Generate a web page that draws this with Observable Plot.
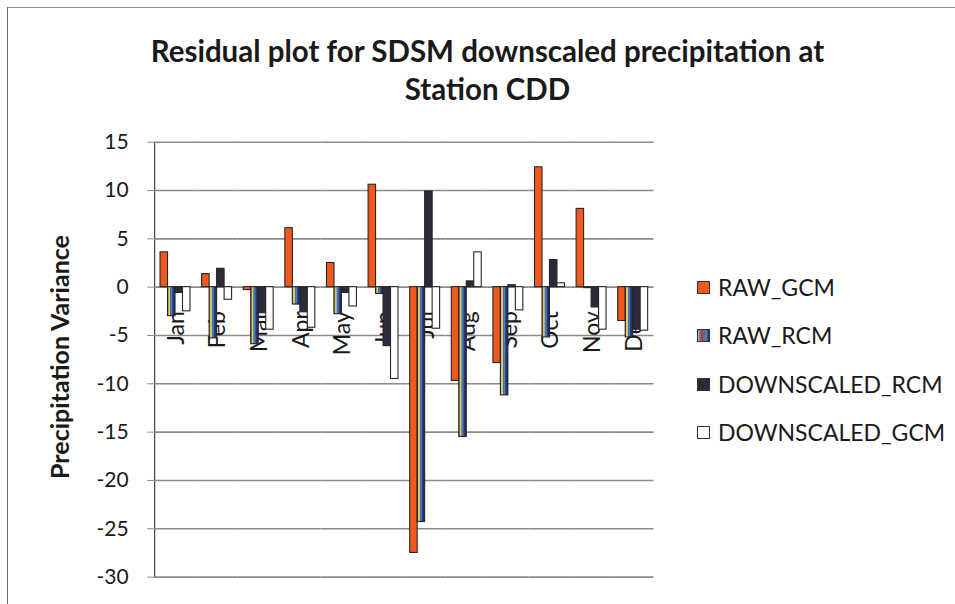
<!DOCTYPE html>
<html>
<head>
<meta charset="utf-8">
<script src="https://cdn.jsdelivr.net/npm/d3@7"></script>
<script src="https://cdn.jsdelivr.net/npm/@observablehq/plot@0.6"></script>
<style>
  body { margin: 0; background: #fff; }
  #wrap { position: relative; width: 955px; height: 604px; overflow: hidden; background: #fff; font-family: Lato, "Open Sans", sans-serif; color: #1a1a1a; }
  #border { position: absolute; left: 7px; top: 7px; width: 1000px; height: 700px; border-left: 1.5px solid #6d6d88; border-top: 1.5px solid #8a8a9a; }
  #title { position: absolute; left: 0; top: 31.5px; width: 975px; text-align: center; font-weight: 700; font-size: 29.5px; line-height: 38px; }
  #ylabel { position: absolute; left: 59px; top: 357px; transform: translate(-50%, -50%) rotate(-90deg); font-weight: 700; font-size: 25px; white-space: nowrap; }
  .leg { position: absolute; left: 697px; height: 30px; display: flex; align-items: center; font-size: 23px; white-space: nowrap; }
  .sw { width: 11px; height: 11px; border: 1px solid #333; margin-right: 8px; box-sizing: content-box; }
  #chart { position: absolute; left: 0; top: 0; }
  #chart svg g[aria-label^="y-axis"] path, #chart svg g[aria-label^="y-axis"] line { stroke: #8a8a8a; }
</style>
</head>
<body>
<svg width="0" height="0" style="position:absolute">
  <defs>
    <linearGradient id="rawrcm" x1="0" x2="1" y1="0" y2="0">
      <stop offset="0%" stop-color="#2a2f55"/>
      <stop offset="15%" stop-color="#d9c24a"/>
      <stop offset="30%" stop-color="#e6d27a"/>
      <stop offset="40%" stop-color="#4a62a8"/>
      <stop offset="55%" stop-color="#3d8cc2"/>
      <stop offset="70%" stop-color="#2c3c84"/>
      <stop offset="100%" stop-color="#1d2352"/>
    </linearGradient>
  </defs>
</svg>
<div id="wrap">
  <div id="border"></div>
  <div id="chart"></div>
  <div id="title">Residual plot for SDSM downscaled precipitation at<br>Station CDD</div>
  <div id="ylabel">Precipitation Variance</div>
  <div id="legend"></div>
</div>
<script>
const months = ["Jan", "Feb", "Mar", "Apr", "May", "Jun", "Jul", "Aug", "Sep", "Oct", "Nov", "Dec"];
const series = ["RAW_GCM", "RAW_RCM", "DOWNSCALED_RCM", "DOWNSCALED_GCM"];
const rawGCM  = [3.6, 1.35, -0.3, 6.1, 2.5, 10.6, -27.5, -9.7, -7.85, 12.4, 8.1, -3.5];
const rawRCM  = [-3.0, -5.3, -5.9, -1.8, -2.8, -0.7, -24.3, -15.5, -11.2, -5.2, -0.1, -5.2];
const downRCM = [-0.6, 1.9, -2.7, -2.6, -0.6, -6.1, 9.9, 0.6, 0.2, 2.8, -2.1, -4.4];
const downGCM = [-2.5, -1.3, -4.4, -4.2, -2.0, -9.5, -4.3, 3.6, -2.4, 0.4, -4.4, -4.5];
const yTicks = [15, 10, 5, 0, -5, -10, -15, -20, -25, -30];
const seriesFill = ["#f0591d", "url(#rawrcm)", "#2a2a3a", "#ffffff"];
const legendSwatch = ["#f0591d", "linear-gradient(90deg,#d9c24a,#4a62a8,#c04040,#3d8cc2,#1d2352)", "#2a2a3a", "#ffffff"];
const legendY = [287, 335, 384, 432];

const values = [rawGCM, rawRCM, downRCM, downGCM];
const table = months.flatMap((m, i) => series.map((s, j) => ({month: m, series: s, value: values[j][i]})));

const chart = Plot.plot({
  width: 955,
  height: 604,
  marginTop: 141.7,
  marginBottom: 27.4,
  marginLeft: 154.2,
  marginRight: 301.5,
  style: {fontFamily: "Lato, 'Open Sans', sans-serif", fontSize: "21px", color: "#1a1a1a", background: "transparent", overflow: "visible"},
  fx: {domain: months, paddingInner: 0, paddingOuter: 0, round: false, axis: null, label: null},
  x: {domain: series, paddingInner: 0, paddingOuter: 0.78, round: false, axis: null, label: null},
  y: {domain: [-30, 15], ticks: yTicks, tickFormat: d => String(d), tickSize: 7, tickPadding: 19, line: true, label: null},
  color: {domain: series, range: seriesFill},
  marks: [
    Plot.ruleY(yTicks, {stroke: "#8a8a8a", strokeWidth: 1.6}),
    Plot.text(months, {fx: d => d, y: () => 0, text: d => d, rotate: -90, textAnchor: "end", dy: 24, dx: 1, fontSize: 23, fill: "#1a1a1a"}),
    Plot.barY(table, {fx: "month", x: "series", y: "value", fill: "series", stroke: "#262626", strokeWidth: 1.1})
  ]
});
document.getElementById("chart").appendChild(chart);

const legend = document.getElementById("legend");
series.forEach((s, i) => {
  const row = document.createElement("div");
  row.className = "leg";
  row.style.top = (legendY[i] - 15) + "px";
  const sw = document.createElement("div");
  sw.className = "sw";
  sw.style.background = legendSwatch[i];
  const label = document.createElement("span");
  label.textContent = s;
  row.appendChild(sw);
  row.appendChild(label);
  legend.appendChild(row);
});
</script>
</body>
</html>
